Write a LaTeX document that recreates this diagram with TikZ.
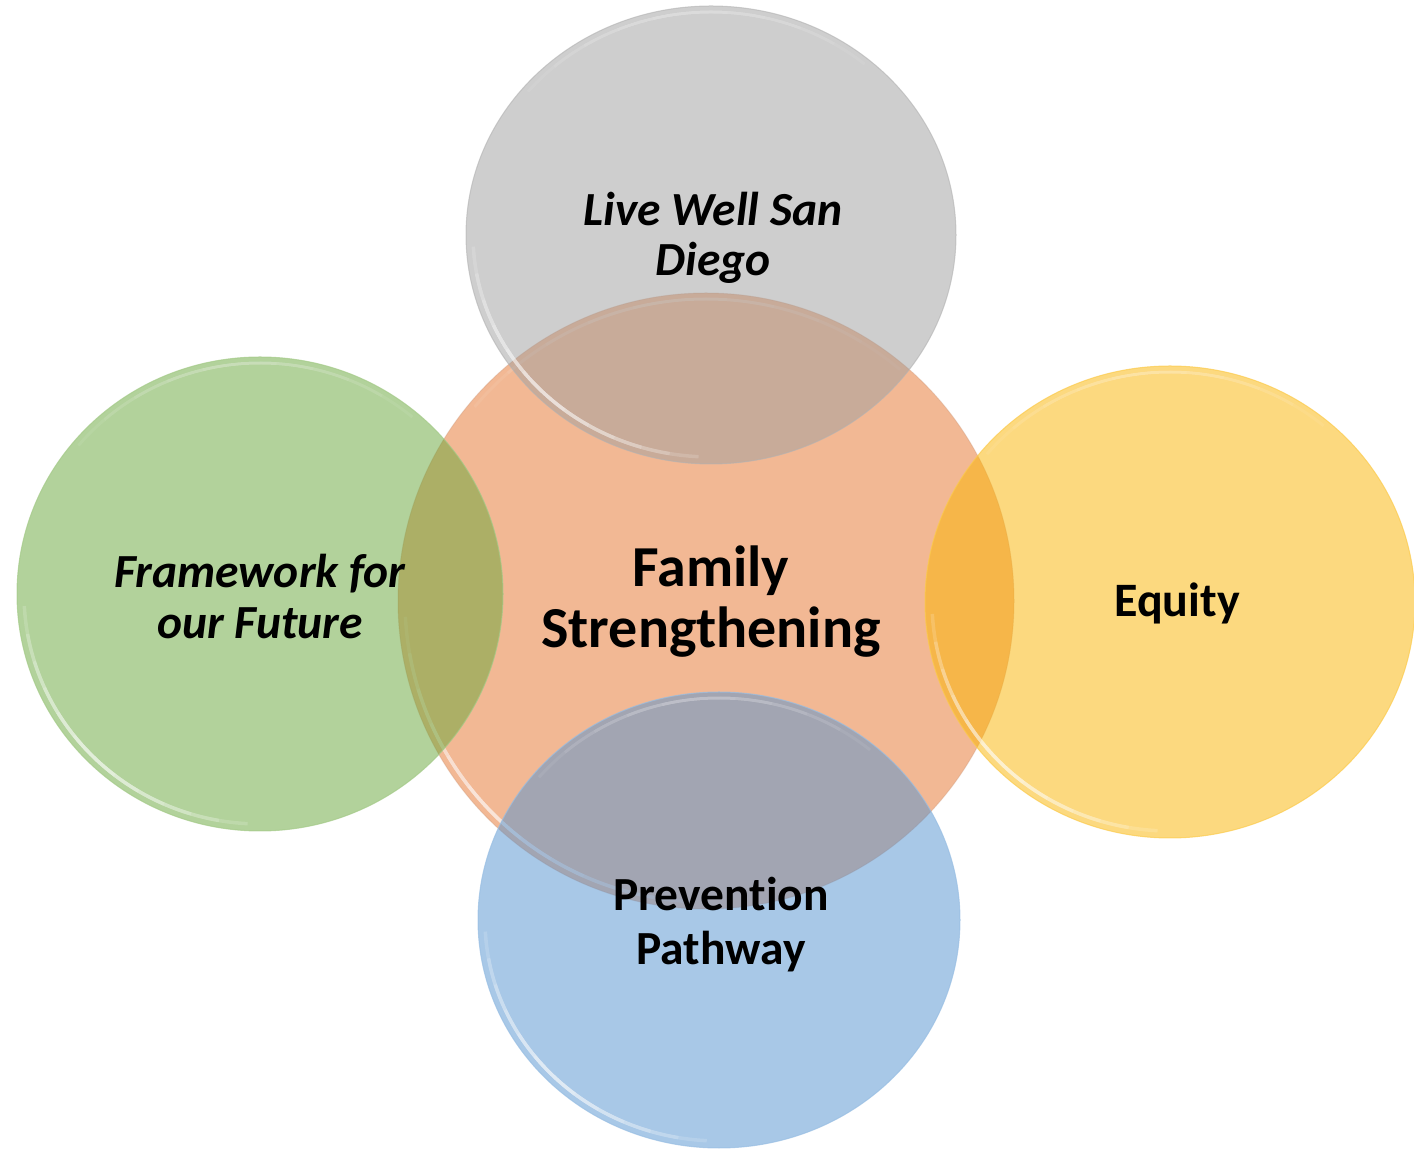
\documentclass[tikz,border=0pt]{standalone}
\usepackage{fontspec}
\setmainfont{Carlito}[Ligatures=NoCommon]
\usetikzlibrary{shapes.geometric}
\definecolor{orangeF}{RGB}{242,184,148}
\definecolor{grayF}{RGB}{159,159,159}
\definecolor{greenF}{RGB}{103,167,57}
\definecolor{yellowF}{RGB}{251,181,0}
\definecolor{blueF}{RGB}{83,147,209}
\newcommand\glossring[3]{%
  \begin{scope}[shift={(#1.center)}]
    \foreach \k in {1,...,6}{
      \pgfmathsetmacro\sa{225-7*\k}
      \pgfmathsetmacro\ea{225+7*\k}
      \draw[white, line width=3.5pt, opacity=0.16]
        (\sa:{(#2-7)*1pt} and {(#3-7)*1pt})
        arc[start angle=\sa, end angle=\ea, x radius={(#2-7)*1pt}, y radius={(#3-7)*1pt}];
    }
    \foreach \k in {1,...,5}{
      \pgfmathsetmacro\sa{95-9*\k}
      \pgfmathsetmacro\ea{95+9*\k}
      \draw[white, line width=3pt, opacity=0.07]
        (\sa:{(#2-6)*1pt} and {(#3-6)*1pt})
        arc[start angle=\sa, end angle=\ea, x radius={(#2-6)*1pt}, y radius={(#3-6)*1pt}];
    }
  \end{scope}}
\begin{document}
\begin{tikzpicture}[x=1pt,y=1pt,
  bubble/.style={ellipse, inner sep=0pt, outer sep=0pt},
  label/.style={font=\bfseries, align=center, inner sep=0pt, text=black},
  ilabel/.style={label, font=\bfseries\itshape}]
\fill[white] (0,0) rectangle (1414,1149);
\useasboundingbox (0,0) rectangle (1414,1149);
% central circle
\node[bubble, fill=orangeF, draw=orangeF!85!black, draw opacity=0.35, line width=1pt,
      minimum width=616pt, minimum height=616pt] (fam) at (706,548) {};
\glossring{fam}{308}{308}
% outer circles
\node[bubble, fill=grayF, fill opacity=0.5, draw=gray!60, draw opacity=0.6, line width=1pt,
      minimum width=490pt, minimum height=458pt] (live) at (711,914) {};
\glossring{live}{245}{229}
\node[bubble, fill=greenF, fill opacity=0.5, draw=greenF!60!white, draw opacity=0.7, line width=1pt,
      minimum width=486pt, minimum height=474pt] (frame) at (260,555) {};
\glossring{frame}{243}{237}
\node[bubble, fill=yellowF, fill opacity=0.5, draw=yellowF!70!white, draw opacity=0.7, line width=1pt,
      minimum width=490pt, minimum height=472pt] (eq) at (1170,547) {};
\glossring{eq}{245}{236}
\node[bubble, fill=blueF, fill opacity=0.5, draw=blueF!60!white, draw opacity=0.7, line width=1pt,
      minimum width=482pt, minimum height=456pt] (prev) at (719,229) {};
\glossring{prev}{241}{228}
% texts
\node[label, font=\bfseries\fontsize{58}{61}\selectfont] (famt) at (711,547) {Family\\Strengthening};
\node[ilabel, font=\bfseries\itshape\fontsize{47.5}{50}\selectfont] (livet) at (713,911) {Live Well San\\Diego};
\node[ilabel, font=\bfseries\itshape\fontsize{47.5}{51}\selectfont] (framet) at (260,552) {Framework for\\our Future};
\node[label, font=\bfseries\fontsize{48}{54}\selectfont, anchor=base] (eqt) at (1177,532) {Equity};
\node[label, font=\bfseries\fontsize{47.5}{54}\selectfont] (prevt) at (721,224) {Prevention\\Pathway};
\end{tikzpicture}
\end{document}
